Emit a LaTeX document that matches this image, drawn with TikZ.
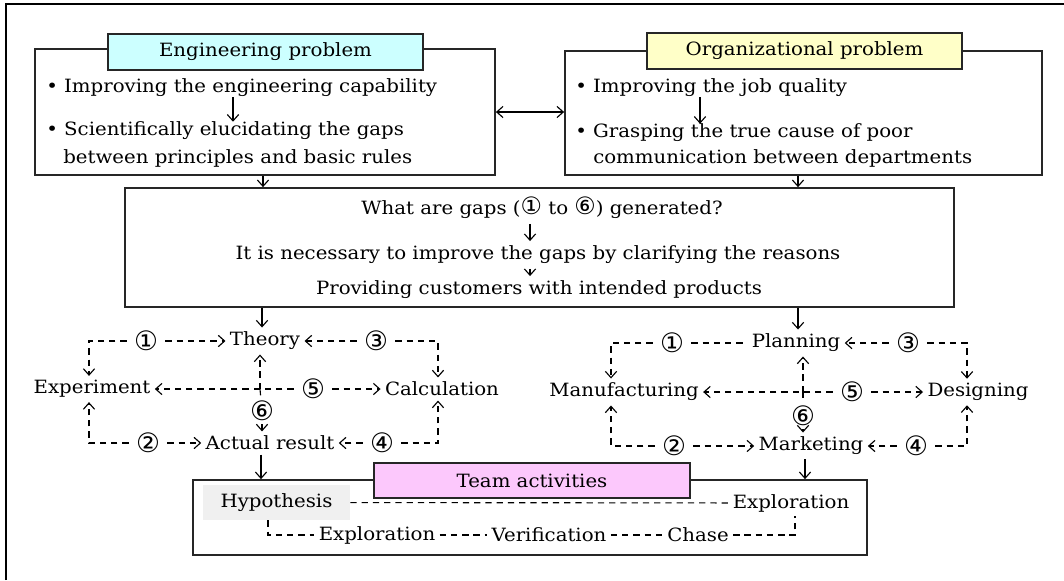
\documentclass[tikz,border=0pt]{standalone}
\usepackage{fontspec}
\setmainfont{DejaVu Serif}[FakeStretch=1.08]
\newfontfamily\circfont{DejaVu Sans}
\usetikzlibrary{arrows.meta}
\definecolor{engcyan}{RGB}{204,255,255}
\definecolor{orgyellow}{RGB}{255,255,200}
\definecolor{teampink}{RGB}{252,200,252}
\definecolor{hypgray}{RGB}{240,240,240}
\newcommand\cnum[1]{{\circfont\fontsize{17}{14}\selectfont #1}}

\begin{document}
\begin{tikzpicture}[x=0.025cm, y=-0.025cm,
  font=\fontsize{13}{14}\selectfont,
  frame/.style={draw=black!85, line width=1.2pt, inner sep=0pt},
  titlebox/.style={frame, minimum width=7.875cm, minimum height=0.9cm},
  line/.style={anchor=west, inner sep=0pt},
  lbl/.style={inner sep=3pt},
  num/.style={font=\circfont\fontsize{19}{14}\selectfont, inner xsep=5pt, inner ysep=2pt},
  arr/.style={-{Straight Barb[length=4.5pt,width=8pt]}, line width=0.8pt},
  both/.style={{Straight Barb[length=4.5pt,width=8pt]}-{Straight Barb[length=4.5pt,width=8pt]}, line width=0.8pt},
  gap/.style={line width=0.8pt, dash pattern=on 4.5pt off 3.5pt}]

\useasboundingbox (0,0) rectangle (1064,580);
\draw[line width=1.6pt] (6,580) -- (6,4) -- (1064,4);

% the two problem boxes
\node[frame, minimum width=11.5cm, minimum height=3.15cm] (eng) at (265,112) {};
\node[titlebox, fill=engcyan] (engtitle) at (265.5,52) {Engineering problem};
\node[line] (e1) at (46,88) {\textbullet\ Improving the engineering capability};
\node[line] (e2) at (46,131) {\textbullet\ Scientifically elucidating the gaps};
\node[line] (e3) at (63,158) {between principles and basic rules};
\draw[arr] (e1.south -| 233,0) -- (e2.north -| 233,0);

\node[frame, minimum width=11.925cm, minimum height=3.1cm] (org) at (803.5,113) {};
\node[titlebox, fill=orgyellow] (orgtitle) at (804.5,51) {Organizational problem};
\node[line] (o1) at (575,88) {\textbullet\ Improving the job quality};
\node[line] (o2) at (575,133) {\textbullet\ Grasping the true cause of poor};
\node[line] (o3) at (593,158) {communication between departments};
\draw[arr] (o1.south -| 700,0) -- (o2.north -| 700,0);

\draw[both] (eng.east) -- (eng.east -| org.west);

% gaps box
\node[frame, minimum width=20.725cm, minimum height=2.975cm] (mid) at (539.5,247.5) {};
\node (m1) at (542,208) {What are gaps (\cnum{①} to \cnum{⑥}) generated?};
\node (m2) at (538,255) {It is necessary to improve the gaps by clarifying the reasons};
\node (m3) at (539,290) {Providing customers with intended products};
\draw[arr] (m1.south -| 530,0) -- (m2.north -| 530,0);
\draw[arr] (m2.south -| 530,0) -- (m3.north -| 530,0);
\draw[arr] (eng.south -| 263,0) -- (mid.north -| 263,0);
\draw[arr] (org.south -| 798,0) -- (mid.north -| 798,0);

% engineering cycle
\node[lbl] (theory) at (265,341) {Theory};
\node[lbl] (expt) at (92,389) {Experiment};
\node[lbl] (calc) at (442,389) {Calculation};
\node[lbl] (actual) at (270,443) {Actual result};
\node[num] (c1) at (146,341) {①};
\node[num] (c2) at (148,443) {②};
\node[num] (c3) at (376,341) {③};
\node[num] (c4) at (382,443) {④};
\node[num] (c5) at (313,389) {⑤};
\node[num] (c6) at (262,411) {⑥};
\coordinate (tlL) at (89,341);
\coordinate (trL) at (438,341);
\coordinate (blL) at (89,443);
\coordinate (brL) at (438,443);
\coordinate (crossL) at (260,389);

\draw[arr] (mid.south -| 262,0) -- (theory.north -| 262,0);
\draw[gap, arr] (c1) -- (theory);
\draw[gap, arr] (c1) -- (tlL) -- (tlL |- expt.north);
\draw[gap, arr] (c3) -- (theory);
\draw[gap, arr] (c3) -- (trL) -- (trL |- calc.north);
\draw[gap, arr] (c5) -- (crossL) -- (expt);
\draw[gap, arr] (c5) -- (calc);
\draw[gap, arr] (crossL) -- (theory.south -| crossL);
\draw[gap] (crossL) -- (c6);
\draw[gap, arr] (c6) -- (actual.north -| c6);
\draw[gap, arr] (c2) -- (actual);
\draw[gap, arr] (c2) -- (blL) -- (blL |- expt.south);
\draw[gap, arr] (c4) -- (actual);
\draw[gap, arr] (c4) -- (brL) -- (brL |- calc.south);

% organizational cycle
\node[lbl] (plan) at (796,343) {Planning};
\node[lbl] (manu) at (624,392) {Manufacturing};
\node[lbl] (design) at (978,392) {Designing};
\node[lbl] (market) at (811,446) {Marketing};
\node[num] (d1) at (672,343) {①};
\node[num] (d2) at (674,446) {②};
\node[num] (d3) at (908,343) {③};
\node[num] (d4) at (916,446) {④};
\node[num] (d5) at (852,392) {⑤};
\node[num] (d6) at (803,416) {⑥};
\coordinate (tlR) at (611,343);
\coordinate (trR) at (967,343);
\coordinate (blR) at (611,446);
\coordinate (brR) at (967,446);
\coordinate (crossR) at (803,392);

\draw[arr] (mid.south -| 798,0) -- (plan.north -| 798,0);
\draw[gap] (d1) -- (plan);
\draw[gap, arr] (d1) -- (tlR) -- (tlR |- manu.north);
\draw[gap, arr] (d3) -- (plan);
\draw[gap, arr] (d3) -- (trR) -- (trR |- design.north);
\draw[gap, arr] (d5) -- (crossR) -- (manu);
\draw[gap, arr] (d5) -- (design);
\draw[gap, arr] (crossR) -- (plan.south -| crossR);
\draw[gap] (crossR) -- (d6);
\draw[gap, arr] (d6) -- (market.north -| d6);
\draw[gap, arr] (d2) -- (market);
\draw[gap, arr] (d2) -- (blR) -- (blR |- manu.south);
\draw[gap, arr] (d4) -- (market);
\draw[gap, arr] (d4) -- (brR) -- (brR |- design.south);

% team activities
\node[frame, minimum width=16.85cm, minimum height=1.875cm] (team) at (530,517.5) {};
\node[titlebox, fill=teampink, minimum width=7.9cm, minimum height=0.875cm] (teamtitle) at (532,480.5) {Team activities};
\node[fill=hypgray, minimum width=3.675cm, minimum height=0.875cm, inner sep=0pt] (hyp) at (276.5,502.5) {Hypothesis};
\node[lbl] (expl1) at (791,503) {Exploration};
\node[lbl] (expl2) at (377,535) {Exploration};
\node[lbl] (verif) at (549,535) {Verification};
\node[lbl] (chase) at (698,535) {Chase};
\coordinate (blT) at (268,535);
\coordinate (brT) at (795,535);

\draw[arr] (actual.south -| 261,0) -- (team.north -| 261,0);
\draw[arr] (market.south -| 805,0) -- (team.north -| 805,0);
\draw[gap] (hyp) -- (expl1);
\draw[gap] (hyp.south -| blT) -- (blT) -- (expl2);
\draw[gap] (expl2) -- (verif);
\draw[gap] (verif) -- (chase);
\draw[gap] (chase) -- (brT) -- (brT |- expl1.south);
\end{tikzpicture}
\end{document}
